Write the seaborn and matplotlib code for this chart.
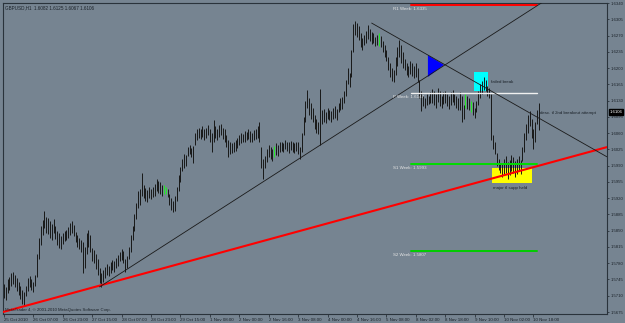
import numpy as np
import pandas as pd
import matplotlib
matplotlib.use("Agg")
import matplotlib.pyplot as plt
import matplotlib.transforms as mtransforms
from matplotlib.patches import Rectangle, Polygon
import seaborn as sns

# ---------------- data ----------------
highs = [
    1.5735, 1.5728, 1.5745, 1.5750, 1.5758, 1.5762, 1.5755, 1.5748, 1.5740, 1.5730,
    1.5722, 1.5718, 1.5732, 1.5748, 1.5752, 1.5745, 1.5740, 1.5755, 1.5800, 1.5835,
    1.5860, 1.5872, 1.5892, 1.5880, 1.5878, 1.5870, 1.5865, 1.5875, 1.5860, 1.5850,
    1.5845, 1.5838, 1.5845, 1.5850, 1.5852, 1.5858, 1.5866, 1.5870, 1.5862, 1.5848,
    1.5840, 1.5835, 1.5830, 1.5825, 1.5815, 1.5845, 1.5852, 1.5840, 1.5812, 1.5808,
    1.5800, 1.5790, 1.5770, 1.5760, 1.5765, 1.5772, 1.5778, 1.5775, 1.5782, 1.5788,
    1.5785, 1.5792, 1.5798, 1.5805, 1.5810, 1.5806, 1.5790, 1.5795, 1.5815, 1.5840,
    1.5860, 1.5885, 1.5910, 1.5935, 1.5940, 1.5975, 1.5948, 1.5942, 1.5938, 1.5945,
    1.5940, 1.5944, 1.5950, 1.5962, 1.5958, 1.5955, 1.5948, 1.5948, 1.5945, 1.5940,
    1.5930, 1.5920, 1.5915, 1.5925, 1.5945, 1.5970, 1.5988, 1.6005, 1.6015, 1.6012,
    1.6030, 1.6035, 1.6028, 1.6032, 1.6060, 1.6068, 1.6072, 1.6070, 1.6075, 1.6068,
    1.6072, 1.6078, 1.6070, 1.6060, 1.6088, 1.6075, 1.6070, 1.6078, 1.6080, 1.6072,
    1.6068, 1.6055, 1.6045, 1.6040, 1.6038, 1.6042, 1.6045, 1.6050, 1.6055, 1.6060,
    1.6058, 1.6065, 1.6062, 1.6068, 1.6065, 1.6060, 1.6066, 1.6070, 1.6075, 1.6083,
    1.6030, 1.6005, 1.6010, 1.6025, 1.6035, 1.6030, 1.6025, 1.6032, 1.6038, 1.6035,
    1.6040, 1.6042, 1.6038, 1.6045, 1.6042, 1.6040, 1.6044, 1.6040, 1.6038, 1.6042,
    1.6040, 1.6030, 1.6060, 1.6095, 1.6130, 1.6152, 1.6135, 1.6125, 1.6115, 1.6100,
    1.6090, 1.6085, 1.6155, 1.6110, 1.6112, 1.6105, 1.6115, 1.6110, 1.6108, 1.6115,
    1.6118, 1.6112, 1.6125, 1.6135, 1.6138, 1.6150, 1.6175, 1.6200, 1.6190, 1.6240,
    1.6295, 1.6302, 1.6298, 1.6290, 1.6275, 1.6265, 1.6272, 1.6280, 1.6292, 1.6285,
    1.6278, 1.6275, 1.6268, 1.6272, 1.6275, 1.6270, 1.6258, 1.6250, 1.6240, 1.6225,
    1.6210, 1.6200, 1.6195, 1.6225, 1.6245, 1.6260, 1.6250, 1.6235, 1.6220, 1.6212,
    1.6205, 1.6215, 1.6210, 1.6205, 1.6210, 1.6200, 1.6175, 1.6150, 1.6140, 1.6135,
    1.6145, 1.6140, 1.6148, 1.6155, 1.6150, 1.6145, 1.6158, 1.6150, 1.6140, 1.6148,
    1.6150, 1.6145, 1.6140, 1.6148, 1.6152, 1.6145, 1.6140, 1.6135, 1.6148, 1.6140,
    1.6120, 1.6145, 1.6140, 1.6135, 1.6130, 1.6128, 1.6115, 1.6130, 1.6150, 1.6165,
    1.6172, 1.6180, 1.6175, 1.6162, 1.6158, 1.6145, 1.6055, 1.6040, 1.6018, 1.6005,
    1.5995, 1.5995, 1.6005, 1.6010, 1.5998, 1.6002, 1.6012, 1.6008, 1.6000, 1.6005,
    1.6010, 1.6002, 1.6030, 1.6060, 1.6080, 1.6100, 1.6108, 1.6090, 1.6070, 1.6085,
    1.6110, 1.6125,
]
lows = [
    1.5705, 1.5700, 1.5715, 1.5722, 1.5730, 1.5735, 1.5728, 1.5720, 1.5712, 1.5703,
    1.5692, 1.5688, 1.5710, 1.5720, 1.5728, 1.5722, 1.5718, 1.5730, 1.5750, 1.5790,
    1.5820, 1.5840, 1.5855, 1.5845, 1.5842, 1.5835, 1.5830, 1.5845, 1.5832, 1.5820,
    1.5812, 1.5810, 1.5822, 1.5828, 1.5830, 1.5835, 1.5840, 1.5845, 1.5838, 1.5825,
    1.5815, 1.5810, 1.5805, 1.5760, 1.5770, 1.5800, 1.5815, 1.5805, 1.5785, 1.5780,
    1.5768, 1.5755, 1.5738, 1.5728, 1.5740, 1.5748, 1.5755, 1.5752, 1.5760, 1.5765,
    1.5762, 1.5770, 1.5775, 1.5785, 1.5788, 1.5780, 1.5762, 1.5770, 1.5790, 1.5805,
    1.5830, 1.5850, 1.5875, 1.5898, 1.5905, 1.5925, 1.5920, 1.5915, 1.5912, 1.5920,
    1.5918, 1.5922, 1.5925, 1.5935, 1.5932, 1.5930, 1.5925, 1.5930, 1.5928, 1.5922,
    1.5905, 1.5895, 1.5890, 1.5893, 1.5915, 1.5935, 1.5955, 1.5978, 1.5985, 1.5990,
    1.6010, 1.6015, 1.6008, 1.5995, 1.6035, 1.6045, 1.6050, 1.6048, 1.6052, 1.6045,
    1.6050, 1.6055, 1.6040, 1.6020, 1.6040, 1.6050, 1.6045, 1.6052, 1.6055, 1.6048,
    1.6042, 1.6030, 1.6008, 1.6015, 1.6018, 1.6020, 1.6022, 1.6028, 1.6035, 1.6038,
    1.6040, 1.6042, 1.6045, 1.6048, 1.6042, 1.6040, 1.6045, 1.6048, 1.6050, 1.6040,
    1.5985, 1.5962, 1.5985, 1.5998, 1.6008, 1.6005, 1.6000, 1.6008, 1.6012, 1.6010,
    1.6020, 1.6022, 1.6020, 1.6025, 1.6022, 1.6018, 1.6024, 1.6020, 1.6018, 1.6022,
    1.6015, 1.6005, 1.6020, 1.6055, 1.6085, 1.6115, 1.6100, 1.6090, 1.6085, 1.6070,
    1.6060, 1.6058, 1.6035, 1.6080, 1.6085, 1.6082, 1.6090, 1.6088, 1.6085, 1.6090,
    1.6092, 1.6088, 1.6105, 1.6110, 1.6112, 1.6125, 1.6140, 1.6165, 1.6160, 1.6180,
    1.6235, 1.6272, 1.6268, 1.6260, 1.6245, 1.6240, 1.6250, 1.6255, 1.6262, 1.6258,
    1.6252, 1.6255, 1.6248, 1.6250, 1.6248, 1.6245, 1.6235, 1.6225, 1.6215, 1.6195,
    1.6180, 1.6172, 1.6170, 1.6185, 1.6205, 1.6225, 1.6210, 1.6200, 1.6195, 1.6185,
    1.6180, 1.6188, 1.6182, 1.6178, 1.6180, 1.6170, 1.6135, 1.6108, 1.6118, 1.6115,
    1.6120, 1.6122, 1.6125, 1.6125, 1.6120, 1.6115, 1.6128, 1.6118, 1.6115, 1.6122,
    1.6125, 1.6118, 1.6112, 1.6120, 1.6128, 1.6120, 1.6115, 1.6110, 1.6110, 1.6085,
    1.6090, 1.6115, 1.6112, 1.6110, 1.6105, 1.6100, 1.6092, 1.6105, 1.6120, 1.6135,
    1.6145, 1.6152, 1.6150, 1.6140, 1.6135, 1.6045, 1.6025, 1.6015, 1.5990, 1.5980,
    1.5975, 1.5965, 1.5972, 1.5975, 1.5962, 1.5970, 1.5978, 1.5975, 1.5965, 1.5972,
    1.5980, 1.5972, 1.6000, 1.6020, 1.6045, 1.6060, 1.6075, 1.6050, 1.6025, 1.6040,
    1.6080, 1.6067,
]
green_bars = [87, 88, 147, 204, 251, 254]

time_labels = ["25 Oct 2010", "26 Oct 07:00", "26 Oct 23:00", "27 Oct 15:00",
               "28 Oct 07:00", "28 Oct 23:00", "29 Oct 15:00", "1 Nov 08:00",
               "2 Nov 00:00", "2 Nov 16:00", "3 Nov 08:00", "4 Nov 00:00",
               "4 Nov 16:00", "5 Nov 08:00", "8 Nov 02:00", "8 Nov 18:00",
               "9 Nov 10:00", "10 Nov 02:00", "10 Nov 18:00"]
price_ticks = [1.5675, 1.5710, 1.5745, 1.5780, 1.5815, 1.5850, 1.5885, 1.5920,
               1.5955, 1.5990, 1.6025, 1.6060, 1.6095, 1.6130, 1.6165, 1.6200,
               1.6235, 1.6270, 1.6305, 1.6340]

pivot_names = ["R1 Week", "P Week", "S1 Week", "S2 Week"]
pivot_values = [1.6335, 1.6147, 1.5993, 1.5807]
pivot_colors = ["#ff0000", "#f0f0f0", "#00dd00", "#00cc00"]

red_tl_bars = [-0.5, 328]
red_tl_prices = [1.5675, 1.6030]
up_tl_bars = [52, 293]
up_tl_prices = [1.5729, 1.6342]
down_tl_bars = [200, 328]
down_tl_prices = [1.6297, 1.6009]

header = "GBPUSD,H1  1.6082 1.6125 1.6067 1.6106"
last_price = 1.6106

# ---------------- figure ----------------
sns.set_theme(style="white")
plt.rcParams["font.family"] = ["Liberation Sans", "DejaVu Sans"]
BG = "#768491"
DARK = "#1c232a"
FS = 3.2

fig = plt.figure(figsize=(6.25, 3.23), dpi=100, facecolor=BG)
ax = fig.add_axes([3 / 625, 9 / 323, 604 / 625, 311 / 323])
ax.set_facecolor(BG)

n = len(highs)
df = pd.DataFrame({"bar": np.arange(n), "high": highs, "low": lows})
df["color"] = [("#22ee22" if i in green_bars else "#181818") for i in df["bar"]]

# rectangles / triangle (behind candles)
ax.add_patch(Rectangle((255.7, 1.6151), 7.6, 0.0041, color="#00ffff", zorder=1, lw=0))
ax.add_patch(Rectangle((265.4, 1.5953), 21.8, 0.0032, color="#ffff00", zorder=1, lw=0))
ax.add_patch(Polygon([(230.6, 1.6228), (230.6, 1.6181), (239.3, 1.6207)],
                     closed=True, color="#0000ff", zorder=1, lw=0))

# candles
ax.vlines(df["bar"], df["low"], df["high"], colors=df["color"], lw=0.7, zorder=2)

# pivot levels
for name, val, col in zip(pivot_names, pivot_values, pivot_colors):
    lw = 1.0 if name == "P Week" else 1.4
    sns.lineplot(x=[221.4, 290], y=[val, val], color=col, lw=lw, ax=ax, zorder=3)
    ax.text(211.6, val - 0.0004, f"{name}: {val:.4f}", fontsize=FS,
            color="#e6e6e6", va="top", ha="left", zorder=4)

# trend lines
sns.lineplot(x=red_tl_bars, y=red_tl_prices, color="#ff0000", lw=1.5, ax=ax, zorder=3)
sns.lineplot(x=up_tl_bars, y=up_tl_prices, color="#1a1a1a", lw=0.6, ax=ax, zorder=3)
sns.lineplot(x=down_tl_bars, y=down_tl_prices, color="#1a1a1a", lw=0.6, ax=ax, zorder=3)

# annotations
ax.text(265.0, 1.6170, "failed break", fontsize=FS, color=DARK, va="center", ha="left", zorder=4)
ax.text(266.0, 1.5942, "major tl supp held", fontsize=FS, color=DARK, va="center", ha="left", zorder=4)
ax.text(291.6, 1.6103, "desc. tl 2nd breakout attempt", fontsize=FS, color=DARK,
        va="center", ha="left", zorder=4)
ax.text(0.003, 0.994, header, transform=ax.transAxes, fontsize=3.3, color=DARK,
        va="top", ha="left")
ax.text(0.004, 0.006, "MetaTrader 4, \u00a9 2001-2010 MetaQuotes Software Corp.",
        transform=ax.transAxes, fontsize=3.1, color=DARK, va="bottom", ha="left")

# axes
ax.set_xlim(-0.5, 328)
ax.set_ylim(1.56707, 1.63402)
ax.set_xticks([16 * i for i in range(len(time_labels))])
ax.set_xticklabels(time_labels, ha="left", fontsize=FS, color=DARK)
ax.yaxis.tick_right()
ax.set_yticks(price_ticks)
ax.set_yticklabels([f"{p:.4f}" for p in price_ticks], fontsize=3.1, color=DARK)
ax.tick_params(axis="x", length=2, width=0.5, color=DARK, pad=1, bottom=True)
ax.tick_params(axis="y", length=1.5, width=0.5, color=DARK, pad=1, right=True, left=False)
for s in ax.spines.values():
    s.set_color("#2a333b")
    s.set_linewidth(0.8)
ax.set_xlabel("")
ax.set_ylabel("")
leg = ax.get_legend()
if leg:
    leg.remove()

# current price box
trans = mtransforms.blended_transform_factory(ax.transAxes, ax.transData)
ax.text(1.004, last_price, f"{last_price:.4f}", transform=trans, fontsize=3.1,
        color="white", va="center", ha="left", zorder=6, clip_on=False,
        bbox=dict(boxstyle="square,pad=0.2", fc="black", ec="black"))

fig.savefig("out.png", dpi=100, facecolor=BG)
